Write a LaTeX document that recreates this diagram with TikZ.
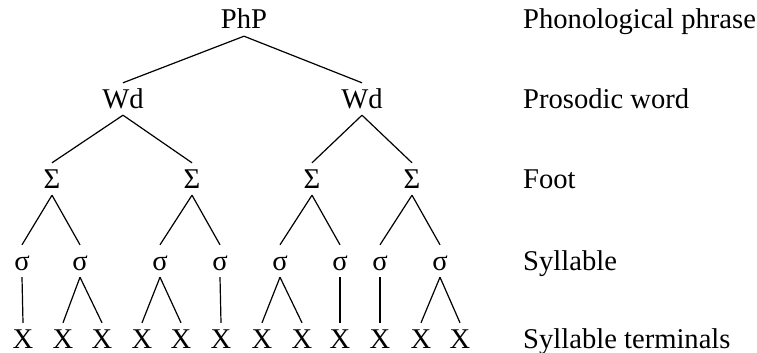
\documentclass[tikz,border=0pt]{standalone}
\usepackage{fontspec}
\setmainfont{Liberation Serif}
\usetikzlibrary{positioning}

\begin{document}
\begin{tikzpicture}[
  x=1pt,
  y=-1pt,
  every node/.style={
    font=\fontsize{28.6}{32}\selectfont,
    text height=18pt,
    text depth=0pt,
    inner sep=7pt
    },
  lvl/.style={
    anchor=west,
    inner xsep=0pt
    },
  branch/.style={line width=1.2pt}
]
\useasboundingbox (0,0) rectangle (757,353);

\node (php) at (244,20) {PhP};
\node (wdA) at (123,99) {Wd};
\node (wdB) at (362,99) {Wd};
\foreach \Nombre/\Px in {ftA/52, ftB/192, ftC/312, ftD/412}
  \node (\Nombre) at (\Px,179) {Σ};
\foreach \Nombre/\Px in {syA/22, syB/80, syC/160, syD/220, syE/280, syF/340, syG/380, syH/440}
  \node (\Nombre) at (\Px,261) {σ};
\foreach \Px [count=\Pxi from 1] in {23, 63, 102, 142, 181, 221, 262, 302, 340, 380, 421, 460}
  \node (x\Pxi) at (\Px,339) {X};

\foreach \Arriba/\Abajo in {php/wdA, php/wdB,
  wdA/ftA, wdA/ftB, wdB/ftC, wdB/ftD,
  ftA/syA, ftA/syB, ftB/syC, ftB/syD, ftC/syE, ftC/syF, ftD/syG, ftD/syH,
  syA/x1, syB/x2, syB/x3, syC/x4, syC/x5, syD/x6,
  syE/x7, syE/x8, syF/x9, syG/x10, syH/x11, syH/x12}
  \draw[branch] (\Arriba.south) -- (\Abajo.north);

\node[lvl] (lbphp) at (523,20) {Phonological phrase};
\node[lvl] (lbwd) at (523,99) {Prosodic word};
\node[lvl] (lbft) at (523,179) {Foot};
\node[lvl] (lbsy) at (523,261) {Syllable};
\node[lvl] (lbx) at (523,339) {Syllable terminals};

\end{tikzpicture}
\end{document}
